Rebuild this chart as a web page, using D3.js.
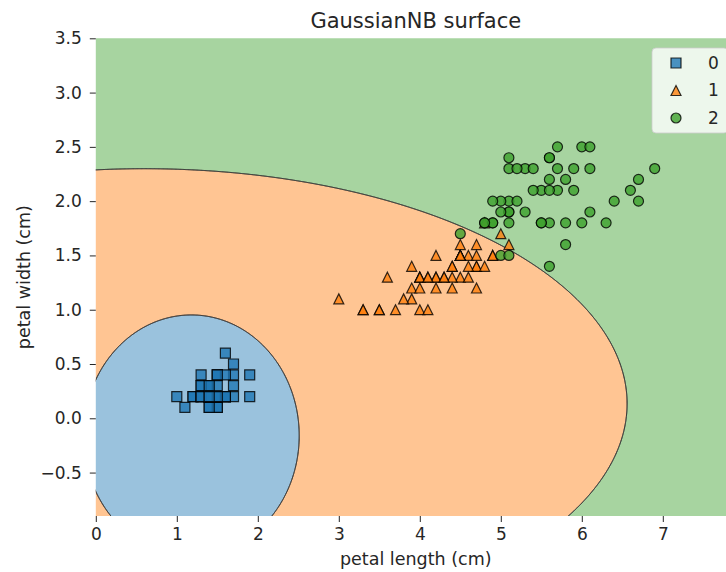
<!DOCTYPE html>
<meta charset="utf-8">
<style>
body { margin: 0; background: #fff; }
text { font-family: "DejaVu Sans", sans-serif; fill: #262626; }
.tick line { stroke: #262626; }
.domain { display: none; }
.boundary { fill: none; stroke: #333; stroke-width: 0.8px; }
.marker { stroke: #000; stroke-width: 1.2px; fill-opacity: 0.8; stroke-opacity: 0.8; }
</style>
<svg width="726" height="572"></svg>
<script src="https://d3js.org/d3.v7.min.js"></script>
<script>

var classes = ["0", "1", "2"];
var colors = ["#1f77b4", "#ff7f0e", "#3ca02c"];
var shapes = ["square", "triangle", "circle"];

// iris petal length / width, one pair of arrays per class
var length0 = [1.4,1.4,1.3,1.5,1.4,1.7,1.4,1.5,1.4,1.5,1.5,1.6,1.4,1.1,1.2,1.5,1.3,1.4,1.7,1.5,1.7,1.5,1.0,1.7,1.9,1.6,1.6,1.5,1.4,1.6,1.6,1.5,1.5,1.4,1.5,1.2,1.3,1.4,1.3,1.5,1.3,1.3,1.3,1.6,1.9,1.4,1.6,1.4,1.5,1.4];
var width0  = [0.2,0.2,0.2,0.2,0.2,0.4,0.3,0.2,0.2,0.1,0.2,0.2,0.1,0.1,0.2,0.4,0.4,0.3,0.3,0.3,0.2,0.4,0.2,0.5,0.2,0.2,0.4,0.2,0.2,0.2,0.2,0.4,0.1,0.2,0.2,0.2,0.2,0.1,0.2,0.2,0.3,0.3,0.2,0.6,0.4,0.3,0.2,0.2,0.2,0.2];
var length1 = [4.7,4.5,4.9,4.0,4.6,4.5,4.7,3.3,4.6,3.9,3.5,4.2,4.0,4.7,3.6,4.4,4.5,4.1,4.5,3.9,4.8,4.0,4.9,4.7,4.3,4.4,4.8,5.0,4.5,3.5,3.8,3.7,3.9,5.1,4.5,4.5,4.7,4.4,4.1,4.0,4.4,4.6,4.0,3.3,4.2,4.2,4.2,4.3,3.0,4.1];
var width1  = [1.4,1.5,1.5,1.3,1.5,1.3,1.6,1.0,1.3,1.4,1.0,1.5,1.0,1.4,1.3,1.4,1.5,1.0,1.5,1.1,1.8,1.3,1.5,1.2,1.3,1.4,1.4,1.7,1.5,1.0,1.1,1.0,1.2,1.6,1.5,1.6,1.5,1.3,1.3,1.3,1.2,1.4,1.2,1.0,1.3,1.2,1.3,1.3,1.1,1.3];
var length2 = [6.0,5.1,5.9,5.6,5.8,6.6,4.5,6.3,5.8,6.1,5.1,5.3,5.5,5.0,5.1,5.3,5.5,6.7,6.9,5.0,5.7,4.9,6.7,4.9,5.7,6.0,4.8,4.9,5.6,5.8,6.1,6.4,5.6,5.1,5.6,6.1,5.6,5.5,4.8,5.4,5.6,5.1,5.1,5.9,5.7,5.2,5.0,5.2,5.4,5.1];
var width2  = [2.5,1.9,2.1,1.8,2.2,2.1,1.7,1.8,1.8,2.5,2.0,1.9,2.1,2.0,2.4,2.3,1.8,2.2,2.3,1.5,2.3,2.0,2.0,1.8,2.1,1.8,1.8,1.8,2.1,1.6,1.9,2.0,2.2,1.5,1.4,2.3,2.4,1.8,1.8,2.1,2.4,2.3,1.9,2.3,2.5,2.3,1.9,2.0,2.3,1.8];

// fitted GaussianNB parameters (estimated from the drawn decision boundaries)
var meanLength = [1.462, 4.26, 5.552];
var meanWidth  = [0.246, 1.326, 2.026];
var varLength  = [0.0095, 0.1037, 0.1403];
var varWidth   = [0.0053, 0.0194, 0.0308];

var xTicks = [0, 1, 2, 3, 4, 5, 6, 7];
var yTicks = [-0.5, 0, 0.5, 1, 1.5, 2, 2.5, 3, 3.5];

var lengths = [length0, length1, length2],
    widths = [width0, width1, width2];

var svg = d3.select("svg");
var mLeft = 95.8, mTop = 38.3, mRight = 735.7, mBottom = 516;

var x = d3.scaleLinear().domain([0, 7.9]).range([mLeft, mRight]);
var y = d3.scaleLinear().domain([-0.9, 3.5]).range([mBottom, mTop]);

function score(k, px, py) {
  return -0.5 * Math.log(varLength[k]) - (px - meanLength[k]) * (px - meanLength[k]) / (2 * varLength[k])
         -0.5 * Math.log(varWidth[k]) - (py - meanWidth[k]) * (py - meanWidth[k]) / (2 * varWidth[k]);
}

// grid of "own score minus best other score" per class, contoured at 0
var step = 0.01, gx0 = -0.2, gy0 = -1.1;
var nx = Math.round((8.1 - gx0) / step) + 1, ny = Math.round((3.7 - gy0) / step) + 1;
var grids = classes.map(function() { return new Float64Array(nx * ny); });
for (var j = 0; j < ny; j++) {
  for (var i = 0; i < nx; i++) {
    var px = gx0 + i * step, py = gy0 + j * step;
    var s = [score(0, px, py), score(1, px, py), score(2, px, py)];
    for (var k = 0; k < 3; k++) {
      var other = -Infinity;
      for (var q = 0; q < 3; q++) if (q !== k) other = Math.max(other, s[q]);
      grids[k][j * nx + i] = s[k] - other;
    }
  }
}

var proj = d3.geoTransform({
  point: function(gx, gy) {
    this.stream.point(x(gx0 + (gx - 0.5) * step), y(gy0 + (gy - 0.5) * step));
  }
});
var path = d3.geoPath(proj);
var contours = d3.contours().size([nx, ny]).thresholds([0]);
var regions = grids.map(function(g) { return contours(g)[0]; });

svg.append("clipPath").attr("id", "clip")
  .append("rect").attr("x", mLeft).attr("y", mTop)
  .attr("width", mRight - mLeft).attr("height", mBottom - mTop);

var surface = svg.append("g").attr("clip-path", "url(#clip)");
surface.selectAll(".region")
  .data(regions)
  .enter().append("path")
    .attr("class", "region")
    .attr("d", path)
    .style("fill", function(d, k) { return d3.interpolateRgb("#fff", colors[k])(0.45); });
surface.selectAll(".boundary")
  .data(regions)
  .enter().append("path")
    .attr("class", "boundary")
    .attr("d", path);

// axes
svg.append("g")
  .attr("transform", "translate(0," + mBottom + ")")
  .call(d3.axisBottom(x).tickValues(xTicks).tickFormat(d3.format("d")).tickSize(6).tickPadding(6))
  .call(function(g) { g.selectAll("text").style("font-size", "17px"); });

svg.append("g")
  .attr("transform", "translate(" + mLeft + ",0)")
  .call(d3.axisLeft(y).tickValues(yTicks).tickFormat(d3.format(".1f")).tickSize(6).tickPadding(8))
  .call(function(g) { g.selectAll("text").style("font-size", "17px"); });

function marker(shape, r) {
  if (shape === "square") return "M" + -r + "," + -r + "h" + 2 * r + "v" + 2 * r + "h" + -2 * r + "Z";
  if (shape === "triangle") return "M0," + -r + "L" + r + "," + r + "L" + -r + "," + r + "Z";
  return "M" + r + ",0A" + r + "," + r + " 0 1,1 " + -r + ",0A" + r + "," + r + " 0 1,1 " + r + ",0Z";
}

var r = 5;
classes.forEach(function(c, k) {
  svg.append("g").selectAll(".marker")
    .data(d3.range(lengths[k].length))
    .enter().append("path")
      .attr("class", "marker")
      .attr("transform", function(i) { return "translate(" + x(lengths[k][i]) + "," + y(widths[k][i]) + ")"; })
      .attr("d", marker(shapes[k], r))
      .style("fill", colors[k]);
});

// legend
var legend = svg.append("g");
legend.append("rect")
  .attr("x", 652).attr("y", 48).attr("width", 76).attr("height", 85).attr("rx", 4)
  .style("fill", "#fff").style("fill-opacity", 0.8)
  .style("stroke", "#ccc").style("stroke-opacity", 0.8);
var item = legend.selectAll(".item")
  .data(classes)
  .enter().append("g")
    .attr("transform", function(d, k) { return "translate(676," + (63 + k * 27.5) + ")"; });
item.append("path")
  .attr("class", "marker")
  .attr("d", function(d, k) { return marker(shapes[k], r); })
  .style("fill", function(d, k) { return colors[k]; });
item.append("text")
  .attr("x", 32).attr("dy", "0.35em")
  .style("font-size", "17px")
  .text(function(d) { return d; });

// labels
svg.append("text")
  .attr("x", (mLeft + mRight) / 2).attr("y", 28)
  .attr("text-anchor", "middle")
  .style("font-size", "21px")
  .text("GaussianNB surface");

svg.append("text")
  .attr("x", (mLeft + mRight) / 2).attr("y", 565)
  .attr("text-anchor", "middle")
  .style("font-size", "17.5px")
  .text("petal length (cm)");

svg.append("text")
  .attr("transform", "translate(30," + (mTop + mBottom) / 2 + ") rotate(-90)")
  .attr("text-anchor", "middle")
  .style("font-size", "17.5px")
  .text("petal width (cm)");

</script>
